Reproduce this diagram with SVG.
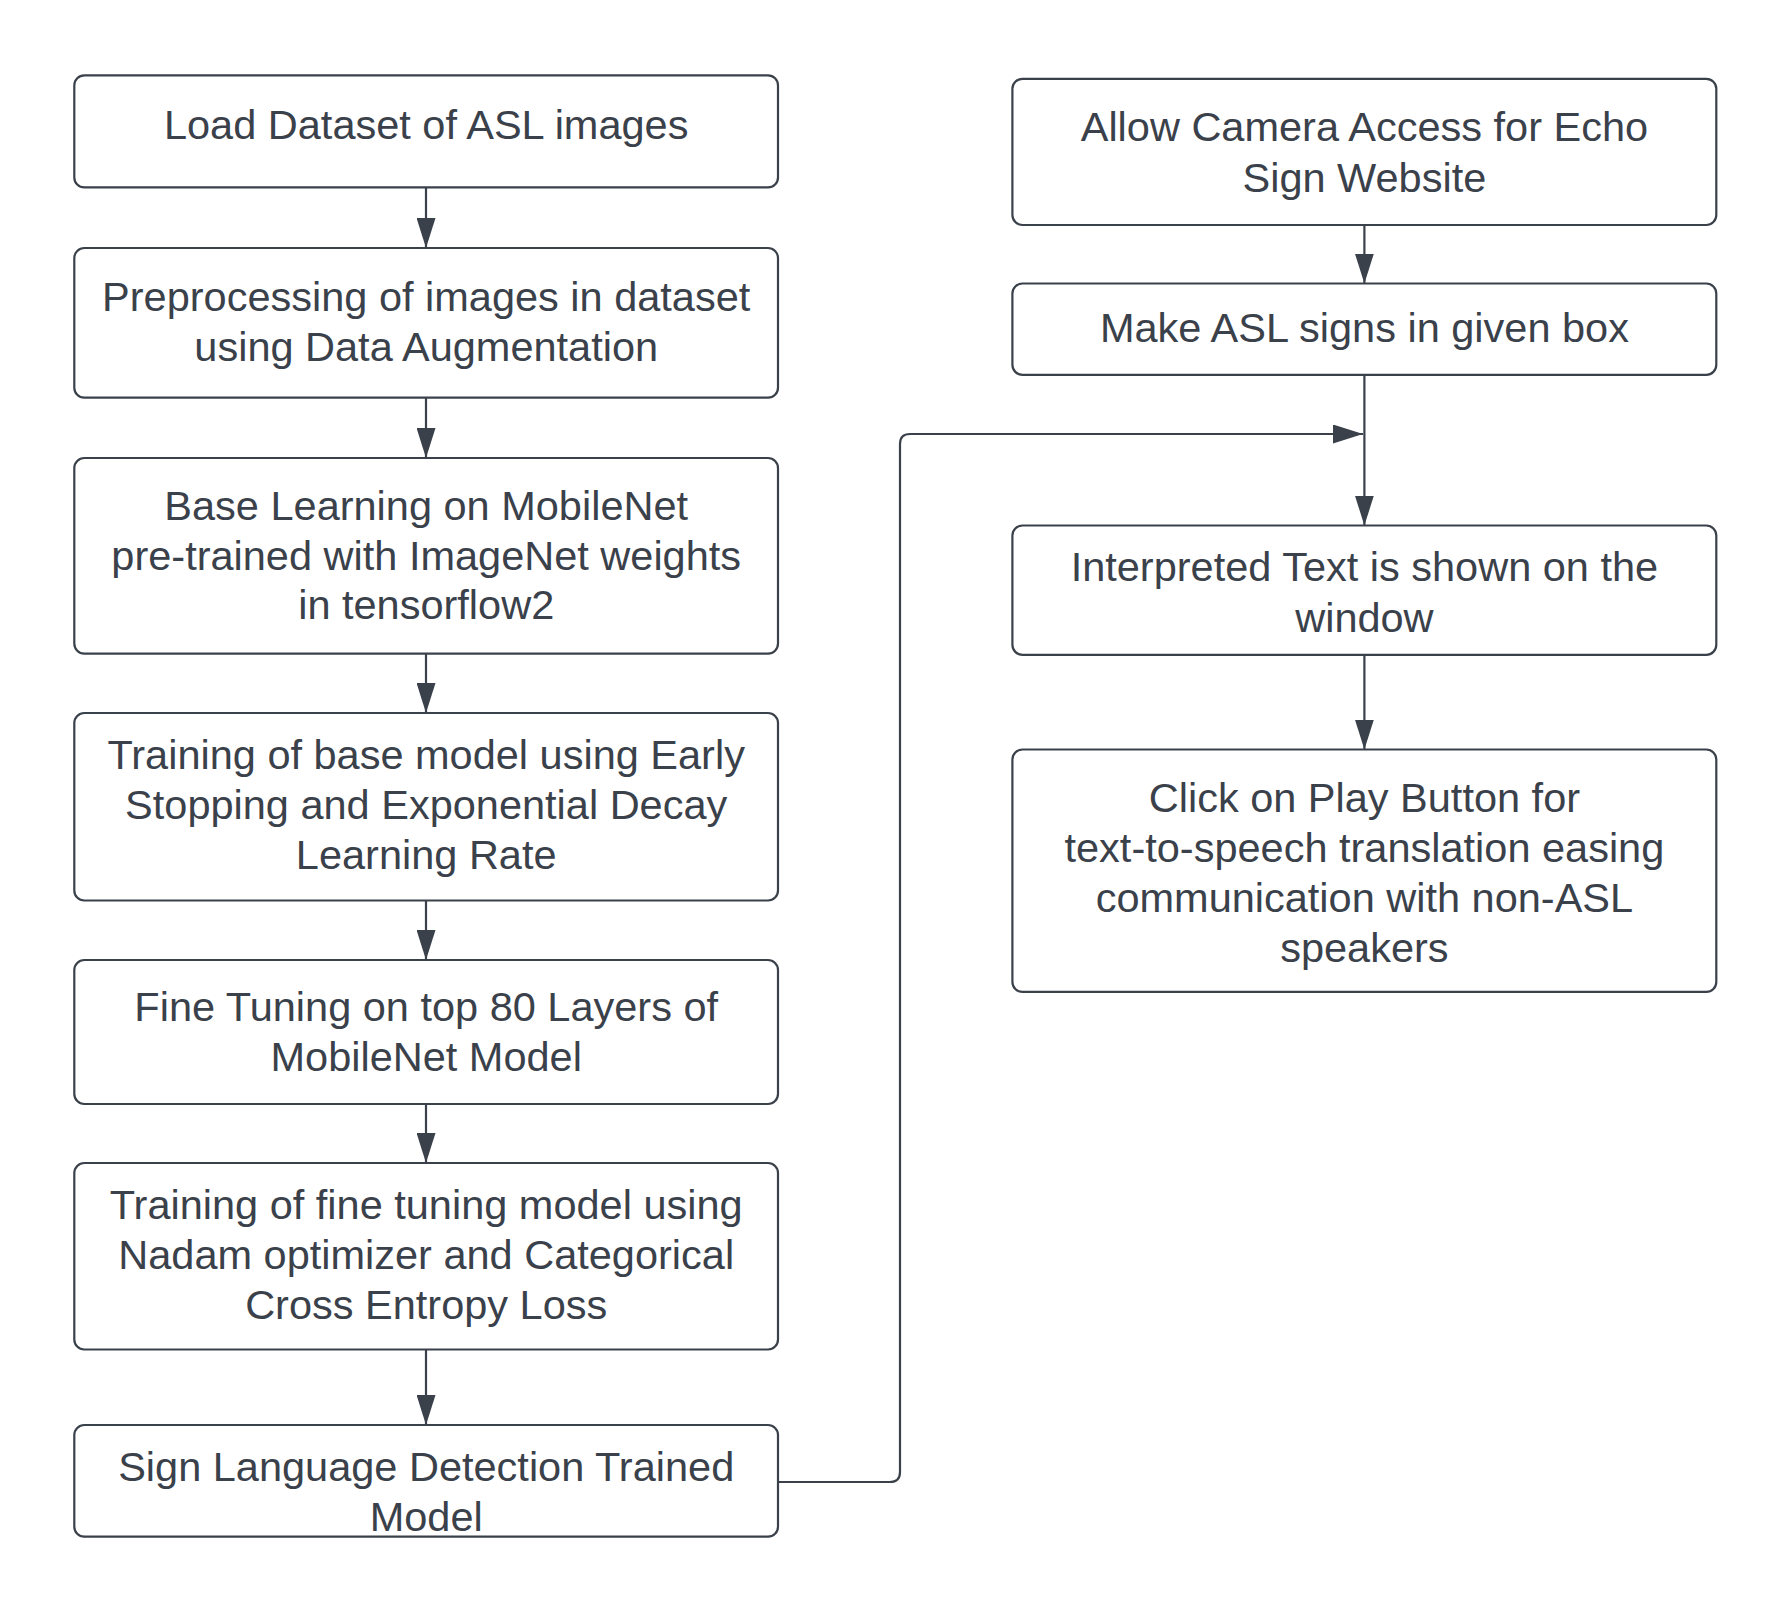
<svg xmlns="http://www.w3.org/2000/svg" width="1791" height="1613" viewBox="0 0 1791 1613">
<style>
.box{fill:#ffffff;stroke:#3a414a;stroke-width:2.2}
.t{font-family:"Liberation Sans",Arial,sans-serif;font-size:41.5px;fill:#3a414a;text-anchor:middle}
.c{fill:none;stroke:#3a414a;stroke-width:2.2}
</style>
<defs>
<marker id="ah" markerUnits="userSpaceOnUse" markerWidth="30" markerHeight="19" refX="30" refY="9.5" orient="auto">
<path d="M0,0 L30,9.5 L0,19 z" fill="#3a414a"/>
</marker>
</defs>
<rect width="1791" height="1613" fill="#ffffff"/>
<g id="connectors">
<line class="c" x1="426" y1="187.5" x2="426" y2="248" marker-end="url(#ah)"/>
<line class="c" x1="426" y1="397.5" x2="426" y2="458" marker-end="url(#ah)"/>
<line class="c" x1="426" y1="653.5" x2="426" y2="713" marker-end="url(#ah)"/>
<line class="c" x1="426" y1="900.5" x2="426" y2="960" marker-end="url(#ah)"/>
<line class="c" x1="426" y1="1104" x2="426" y2="1163" marker-end="url(#ah)"/>
<line class="c" x1="426" y1="1349.5" x2="426" y2="1425" marker-end="url(#ah)"/>
<line class="c" x1="1364.4" y1="225" x2="1364.4" y2="283.5" marker-end="url(#ah)"/>
<line class="c" x1="1364.4" y1="375" x2="1364.4" y2="525.5" marker-end="url(#ah)"/>
<line class="c" x1="1364.4" y1="655" x2="1364.4" y2="749.5" marker-end="url(#ah)"/>
<path class="c" d="M778,1482 H890 Q900,1482 900,1472 V444 Q900,434 910,434 H1363" marker-end="url(#ah)"/>
</g>
<g id="n1">
<rect class="box" x="74.3" y="75.4" width="703.7" height="112" rx="10"/>
<text class="t" x="426.2" y="139">Load Dataset of ASL images</text>
</g>
<g id="n2">
<rect class="box" x="74.3" y="248" width="703.7" height="149.7" rx="10"/>
<text class="t" x="426.2" y="310.5">Preprocessing of images in dataset</text>
<text class="t" x="426.2" y="360.7">using Data Augmentation</text>
</g>
<g id="n3">
<rect class="box" x="74.3" y="458" width="703.7" height="195.6" rx="10"/>
<text class="t" x="426.2" y="519.5">Base Learning on MobileNet</text>
<text class="t" x="426.2" y="569.7">pre-trained with ImageNet weights</text>
<text class="t" x="426.2" y="619">in tensorflow2</text>
</g>
<g id="n4">
<rect class="box" x="74.3" y="713" width="703.7" height="187.5" rx="10"/>
<text class="t" x="426.2" y="768.6">Training of base model using Early</text>
<text class="t" x="426.2" y="818.9">Stopping and Exponential Decay</text>
<text class="t" x="426.2" y="869.1">Learning Rate</text>
</g>
<g id="n5">
<rect class="box" x="74.3" y="960" width="703.7" height="144" rx="10"/>
<text class="t" x="426.2" y="1021.1">Fine Tuning on top 80 Layers of</text>
<text class="t" x="426.2" y="1071.4">MobileNet Model</text>
</g>
<g id="n6">
<rect class="box" x="74.3" y="1163" width="703.7" height="186.5" rx="10"/>
<text class="t" x="426.2" y="1218.8">Training of fine tuning model using</text>
<text class="t" x="426.2" y="1269.1">Nadam optimizer and Categorical</text>
<text class="t" x="426.2" y="1319.4">Cross Entropy Loss</text>
</g>
<g id="n7">
<rect class="box" x="74.3" y="1425" width="703.7" height="111.7" rx="10"/>
<text class="t" x="426.2" y="1481">Sign Language Detection Trained</text>
<text class="t" x="426.2" y="1531">Model</text>
</g>
<g id="r1">
<rect class="box" x="1012.4" y="78.8" width="703.9" height="146.2" rx="10"/>
<text class="t" x="1364.4" y="141.2">Allow Camera Access for Echo</text>
<text class="t" x="1364.4" y="191.5">Sign Website</text>
</g>
<g id="r2">
<rect class="box" x="1012.4" y="283.5" width="703.9" height="91.3" rx="10"/>
<text class="t" x="1364.4" y="342.4">Make ASL signs in given box</text>
</g>
<g id="r3">
<rect class="box" x="1012.4" y="525.5" width="703.9" height="129.3" rx="10"/>
<text class="t" x="1364.4" y="581.2">Interpreted Text is shown on the</text>
<text class="t" x="1364.4" y="631.5">window</text>
</g>
<g id="r4">
<rect class="box" x="1012.4" y="749.5" width="703.9" height="242.4" rx="10"/>
<text class="t" x="1364.4" y="811.7">Click on Play Button for</text>
<text class="t" x="1364.4" y="861.8">text-to-speech translation easing</text>
<text class="t" x="1364.4" y="911.9">communication with non-ASL</text>
<text class="t" x="1364.4" y="962">speakers</text>
</g>
</svg>
